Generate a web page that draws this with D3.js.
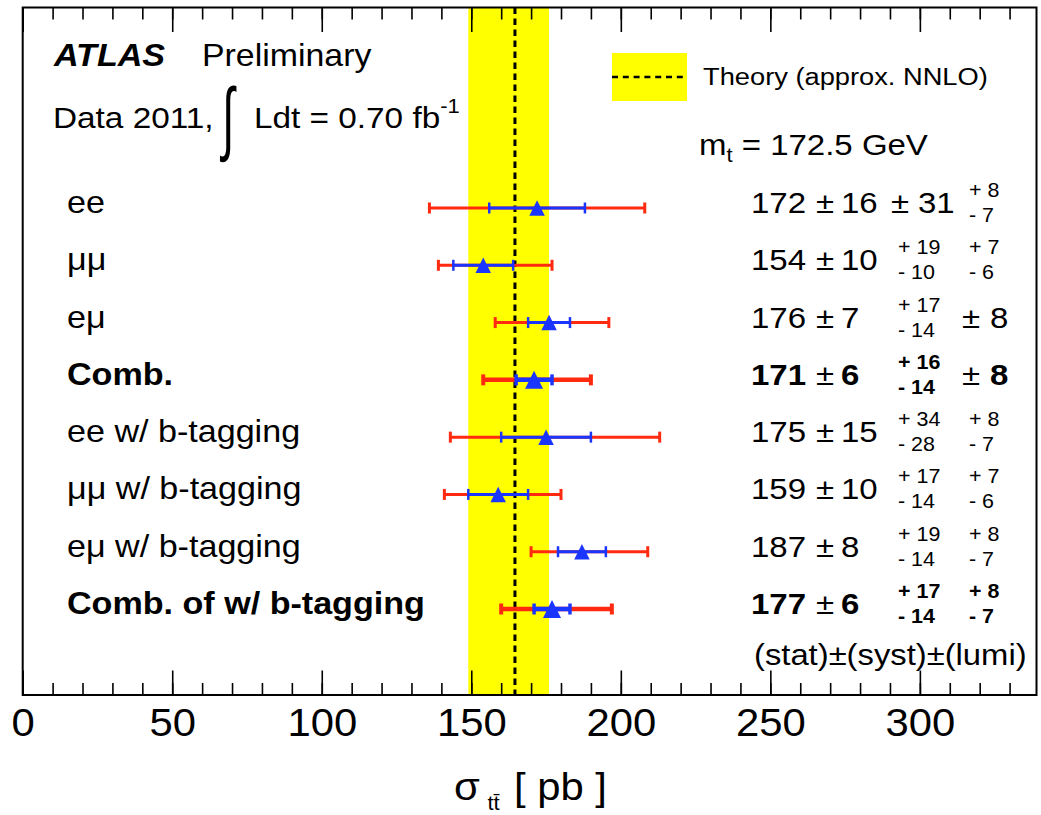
<!DOCTYPE html>
<html><head><meta charset="utf-8">
<script src="https://cdn.jsdelivr.net/npm/d3@7"></script>
<style>
body{margin:0;background:#fff;}
svg{display:block;}
text{font-family:"Liberation Sans",Arial,Helvetica,sans-serif;fill:#000;}
</style>
</head><body>
<svg id="chart" width="1041" height="815"></svg>
<script>
// ---------------- data ----------------
const labels = ["ee", "μμ", "eμ", "Comb.", "ee w/ b-tagging", "μμ w/ b-tagging", "eμ w/ b-tagging", "Comb. of w/ b-tagging"];
const isBold = [false, false, false, true, false, false, false, true];
const xsec = [172, 154, 176, 171, 175, 159, 187, 177];
const statErr = [16, 10, 7, 6, 15, 10, 8, 6];
const systUp = [31, 19, 17, 16, 34, 17, 19, 17];
const systDown = [31, 10, 14, 14, 28, 14, 14, 14];
const lumiUp = [8, 7, 8, 8, 8, 7, 8, 8];
const lumiDown = [7, 6, 8, 8, 7, 6, 7, 7];
const totalLow = [136, 139, 158, 154, 143, 141, 170, 160];
const totalHigh = [208, 177, 196, 190, 213, 180, 209, 197];
const theoryValue = 164.6;
const theoryLow = 149;
const theoryHigh = 176;
const majorTicks = [0, 50, 100, 150, 200, 250, 300];
const xDomain = [0, 339];

// ---------------- layout ----------------
const frame = {left: 22.7, right: 1036.5, top: 7.5, bottom: 695};
const SX = 1.1;
const RED = "#ff2a0f", BLUE = "#1a35ff", YELLOW = "#ffff00";

const svg = d3.select("#chart");
const x = d3.scaleLinear().domain(xDomain).range([frame.left, frame.right]);
const y = d3.scaleLinear().domain([0, labels.length - 1]).range([208, 609]);

function txt(g, px, py, str, size, opts = {}) {
  const t = g.append("text")
    .attr("transform", `translate(${px},${py}) scale(${opts.sx || SX},1)`)
    .style("font-size", size + "px");
  if (opts.bold) t.style("font-weight", "bold");
  if (opts.italic) t.style("font-style", "italic");
  if (opts.anchor) t.attr("text-anchor", opts.anchor);
  if (opts.family) t.style("font-family", opts.family);
  if (str !== null) t.text(str);
  return t;
}

// theory band
svg.append("rect")
  .attr("x", x(theoryLow)).attr("y", frame.top)
  .attr("width", x(theoryHigh) - x(theoryLow))
  .attr("height", frame.bottom - frame.top)
  .attr("fill", YELLOW);
svg.append("line")
  .attr("x1", x(theoryValue)).attr("x2", x(theoryValue))
  .attr("y1", frame.top).attr("y2", frame.bottom)
  .attr("stroke", "#000").attr("stroke-width", 3)
  .attr("stroke-dasharray", "6.5,4.5");

// axes
const minorTicks = d3.range(0, 340, 10);
function axisG(gen, ty) {
  const g = svg.append("g").attr("transform", `translate(0,${ty})`).call(gen);
  g.select(".domain").remove();
  g.selectAll("line").attr("stroke", "#000").attr("stroke-width", 1.6);
  return g;
}
axisG(d3.axisBottom(x).tickValues(minorTicks).tickSize(-12).tickFormat(""), frame.bottom);
const bot = axisG(d3.axisBottom(x).tickValues(majorTicks).tickSize(-24.5).tickPadding(14).tickFormat(d3.format("d")), frame.bottom);
bot.selectAll("text")
  .attr("fill", "#000")
  .style("font-size", "38px")
  .style("font-family", '"Liberation Sans",Arial,sans-serif')
  .attr("transform", `scale(${SX},1)`);
axisG(d3.axisTop(x).tickValues(minorTicks).tickSize(-12).tickFormat(""), frame.top);
axisG(d3.axisTop(x).tickValues(majorTicks).tickSize(-24.5).tickFormat(""), frame.top);

// frame
svg.append("rect")
  .attr("x", frame.left).attr("y", frame.top)
  .attr("width", frame.right - frame.left).attr("height", frame.bottom - frame.top)
  .attr("fill", "none").attr("stroke", "#000").attr("stroke-width", 2);

// error bars
const idx = d3.range(labels.length);
const bars = svg.append("g");
const capH = 11;
const boxTri = {
  draw(ctx, size) {
    const w = Math.sqrt(size);
    ctx.moveTo(0, -w / 2);
    ctx.lineTo(w / 2, w / 2);
    ctx.lineTo(-w / 2, w / 2);
    ctx.closePath();
  }
};
idx.forEach(i => {
  const cy = y(i);
  const lw = isBold[i] ? 4.5 : 3;
  const g = bars.append("g");
  g.append("line").attr("x1", x(totalLow[i])).attr("x2", x(totalHigh[i]))
    .attr("y1", cy).attr("y2", cy).attr("stroke", RED).attr("stroke-width", lw);
  [totalLow[i], totalHigh[i]].forEach(v => {
    g.append("line").attr("x1", x(v)).attr("x2", x(v))
      .attr("y1", cy - capH / 2).attr("y2", cy + capH / 2)
      .attr("stroke", RED).attr("stroke-width", isBold[i] ? 4 : 3);
  });
  const s0 = xsec[i] - statErr[i], s1 = xsec[i] + statErr[i];
  g.append("line").attr("x1", x(s0)).attr("x2", x(s1))
    .attr("y1", cy).attr("y2", cy).attr("stroke", BLUE).attr("stroke-width", lw);
  [s0, s1].forEach(v => {
    g.append("line").attr("x1", x(v)).attr("x2", x(v))
      .attr("y1", cy - capH / 2).attr("y2", cy + capH / 2)
      .attr("stroke", BLUE).attr("stroke-width", isBold[i] ? 3.5 : 2.5);
  });
  const w = isBold[i] ? 18 : 15.5;
  g.append("path")
    .attr("d", d3.symbol().type(boxTri).size(w * w)())
    .attr("transform", `translate(${x(xsec[i])},${cy})`)
    .attr("fill", BLUE);
});

// left labels
const tg = svg.append("g");
idx.forEach(i => {
  txt(tg, 67, y(i) + 5, labels[i], 31, {bold: isBold[i]});
});

// right-hand values
idx.forEach(i => {
  const cy = y(i), b = isBold[i];
  const base = cy + 5;
  txt(tg, 751, base, String(xsec[i]), 30, {bold: b});
  txt(tg, 816, base, "±", 30);
  txt(tg, 841, base, String(statErr[i]), 30, {bold: b});
  if (systUp[i] === systDown[i]) {
    txt(tg, 891, base, "±", 30);
    txt(tg, 918, base, String(systUp[i]), 30, {bold: b});
  } else {
    txt(tg, 898, cy - 11, "+ " + systUp[i], 19.5, {bold: b});
    txt(tg, 898, cy + 14, "- " + systDown[i], 19.5, {bold: b});
  }
  if (lumiUp[i] === lumiDown[i]) {
    txt(tg, 962, base, "±", 30);
    txt(tg, 990, base, String(lumiUp[i]), 30, {bold: b});
  } else {
    txt(tg, 969, cy - 11, "+ " + lumiUp[i], 19.5, {bold: b});
    txt(tg, 969, cy + 14, "- " + lumiDown[i], 19.5, {bold: b});
  }
});
txt(tg, 754, 665, "(stat)±(syst)±(lumi)", 29.8);

// header texts
txt(tg, 54, 66, "ATLAS", 31, {bold: true, italic: true});
txt(tg, 202, 66, "Preliminary", 30.8);
txt(tg, 53, 128, "Data 2011,", 30.3);
txt(tg, 222, 117, "∫", 81, {sx: 0.55}).attr("dominant-baseline", "central");
const lum = txt(tg, 254, 128, null, 30.3);
lum.append("tspan").text("Ldt = 0.70 fb");
lum.append("tspan").attr("dy", -15).style("font-size", "20px").text("-1");

// legend
svg.append("rect").attr("x", 612).attr("y", 53).attr("width", 75).attr("height", 48).attr("fill", YELLOW);
svg.append("line").attr("x1", 612).attr("x2", 687).attr("y1", 77).attr("y2", 77)
  .attr("stroke", "#000").attr("stroke-width", 2.5).attr("stroke-dasharray", "6,4.8");
txt(tg, 703, 85, "Theory (approx. NNLO)", 24.8);

const mt = txt(tg, 699, 155, null, 30);
mt.append("tspan").text("m");
mt.append("tspan").attr("dy", 7).style("font-size", "20px").text("t");
mt.append("tspan").attr("dy", -7).text(" = 172.5 GeV");

// x-axis title
const xt = txt(tg, 454, 800, null, 38);
xt.append("tspan").text("σ");
xt.append("tspan").attr("dx", 7).attr("dy", 10).style("font-size", "20px").text("tt\u0304");
xt.append("tspan").attr("dy", -10).attr("dx", 13).text("[ pb ]");
</script>
</body></html>
